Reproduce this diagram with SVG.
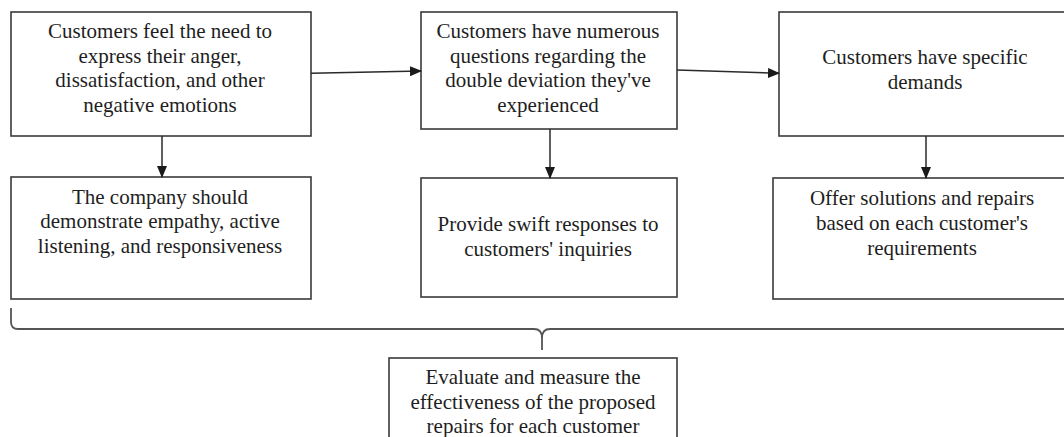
<svg xmlns="http://www.w3.org/2000/svg" width="1064" height="437" viewBox="0 0 1064 437">
  <defs>
    <marker id="arrow" markerUnits="userSpaceOnUse" markerWidth="12" markerHeight="10" refX="11" refY="5" orient="auto">
      <path d="M0,0 L12,5 L0,10 Z" fill="#1a1a1a"/>
    </marker>
    <style>
      .box { fill: #ffffff; stroke: #3a3a3a; stroke-width: 1.6; }
      .lbl { font-family: "Liberation Serif", "Times New Roman", serif; font-size: 21px; fill: #1e1e1e; text-anchor: middle; }
      .conn { fill: none; stroke: #2a2a2a; stroke-width: 1.5; }
      .brace { fill: none; stroke: #555555; stroke-width: 1.8; }
    </style>
  </defs>
  <rect width="1064" height="437" fill="#ffffff"/>

  <!-- top row: customer situations -->
  <g id="need-express">
    <rect class="box" x="11" y="12" width="300" height="124"/>
    <text class="lbl" x="160" y="38">Customers feel the need to</text>
    <text class="lbl" x="160" y="62.5">express their anger,</text>
    <text class="lbl" x="160" y="87">dissatisfaction, and other</text>
    <text class="lbl" x="160" y="111.5">negative emotions</text>
  </g>
  <g id="questions">
    <rect class="box" x="421" y="12" width="256" height="117"/>
    <text class="lbl" x="548" y="38">Customers have numerous</text>
    <text class="lbl" x="548" y="62.5">questions regarding the</text>
    <text class="lbl" x="548" y="87">double deviation they've</text>
    <text class="lbl" x="548" y="111.5">experienced</text>
  </g>
  <g id="demands">
    <rect class="box" x="779" y="12" width="300" height="124"/>
    <text class="lbl" x="925" y="63.5">Customers have specific</text>
    <text class="lbl" x="925" y="88.5">demands</text>
  </g>

  <!-- second row: company responses -->
  <g id="empathy">
    <rect class="box" x="11" y="177" width="300" height="122"/>
    <text class="lbl" x="160" y="203.5">The company should</text>
    <text class="lbl" x="160" y="228">demonstrate empathy, active</text>
    <text class="lbl" x="160" y="252.5">listening, and responsiveness</text>
  </g>
  <g id="swift-responses">
    <rect class="box" x="421" y="178" width="256" height="119"/>
    <text class="lbl" x="548" y="231">Provide swift responses to</text>
    <text class="lbl" x="548" y="256">customers' inquiries</text>
  </g>
  <g id="solutions">
    <rect class="box" x="773" y="178" width="306" height="121"/>
    <text class="lbl" x="922" y="205">Offer solutions and repairs</text>
    <text class="lbl" x="922" y="230">based on each customer's</text>
    <text class="lbl" x="922" y="255">requirements</text>
  </g>

  <!-- final evaluation -->
  <g id="evaluate">
    <rect class="box" x="389" y="358" width="288" height="100"/>
    <text class="lbl" x="533" y="384">Evaluate and measure the</text>
    <text class="lbl" x="533" y="408.5">effectiveness of the proposed</text>
    <text class="lbl" x="533" y="433">repairs for each customer</text>
  </g>

  <!-- connectors -->
  <g id="connectors">
    <path class="conn" d="M311,73.3 L421,71" marker-end="url(#arrow)"/>
    <path class="conn" d="M677,70 L779,73.3" marker-end="url(#arrow)"/>
    <path class="conn" d="M162,136 L162,177" marker-end="url(#arrow)"/>
    <path class="conn" d="M550,129 L550,178" marker-end="url(#arrow)"/>
    <path class="conn" d="M926,136 L926,178" marker-end="url(#arrow)"/>
    <path class="brace" d="M11,308 L11,322 Q11,329 18,329 L534,329 Q542,329 542,338 L542,350"/>
    <path class="brace" d="M1066,329 L550,329 Q542,329 542,338"/>
  </g>
</svg>
